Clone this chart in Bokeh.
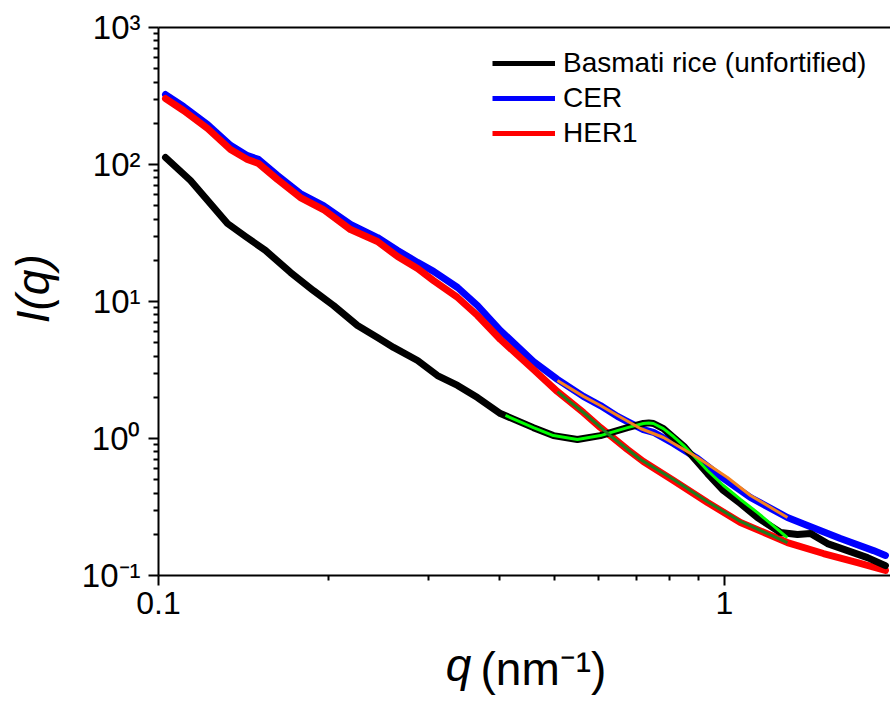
from bokeh.plotting import figure
from bokeh.models import FixedTicker, LogAxis, Legend, LegendItem, Range1d
from bokeh.embed import file_html
from bokeh.resources import INLINE

# ---------------- data ----------------
series_names = ["Basmati rice (unfortified)", "CER", "HER1"]

q_basmati = [0.1029, 0.1139, 0.1324, 0.1425, 0.1545, 0.1711, 0.1879, 0.2038, 0.2247, 0.2437,
             0.2602, 0.2869, 0.3111, 0.3376, 0.3661, 0.4019, 0.4597, 0.4986, 0.5497, 0.6037,
             0.6740, 0.7190, 0.7350, 0.7490, 0.7800, 0.8126, 0.8500, 0.8815, 0.9333, 0.9958,
             1.0673, 1.1437, 1.2559, 1.3459, 1.4189, 1.5205, 1.6494, 1.7893, 1.9250]
I_basmati = [112.5, 76.4, 37.1, 29.8, 23.6, 16.3, 12.0, 9.35, 6.68, 5.46,
             4.62, 3.71, 2.88, 2.44, 1.99, 1.52, 1.20, 1.05, 0.983, 1.05,
             1.20, 1.287, 1.30, 1.287, 1.18, 1.017, 0.867, 0.727, 0.555, 0.417,
             0.335, 0.265, 0.206, 0.199, 0.2025, 0.171, 0.152, 0.135, 0.118]

q_cer = [0.1029, 0.1107, 0.1221, 0.1340, 0.1436, 0.1502, 0.1623, 0.1781, 0.1956, 0.2184,
         0.2437, 0.2645, 0.2869, 0.3062, 0.3376, 0.3661, 0.4019, 0.4597, 0.5068, 0.5633,
         0.6037, 0.6471, 0.6740, 0.7190, 0.7490, 0.8126, 0.8961, 0.9958, 1.1115, 1.2920,
         1.4017, 1.6030, 1.8335, 1.9250]
I_cer = [324, 265, 196, 138, 116, 109, 83.1, 61.4, 50.2, 36.5,
         29.3, 23.6, 19.3, 16.6, 12.65, 9.35, 6.14, 3.65, 2.70, 2.03,
         1.74, 1.45, 1.33, 1.16, 1.11, 0.919, 0.715, 0.511, 0.371, 0.265,
         0.232, 0.186, 0.152, 0.140]

q_her1 = [0.1029, 0.1107, 0.1221, 0.1340, 0.1436, 0.1502, 0.1623, 0.1781, 0.1956, 0.2184,
          0.2437, 0.2645, 0.2869, 0.3062, 0.3376, 0.3661, 0.4019, 0.4597, 0.5068, 0.5633,
          0.6037, 0.6740, 0.7190, 0.8126, 0.9333, 1.0673, 1.2920, 1.4957, 1.7179, 1.9250]
I_her1 = [303, 248, 183, 128.7, 108.8, 101.7, 77.7, 57.4, 46.9, 33.5,
          27.4, 21.3, 17.4, 14.2, 10.7, 7.90, 5.28, 3.19, 2.20, 1.548,
          1.203, 0.831, 0.680, 0.494, 0.341, 0.244, 0.174, 0.1447, 0.1244, 0.1088]

# model fits
q_fit_basmati = [0.4102, 0.4597, 0.4986, 0.5497, 0.6037, 0.6740, 0.7190, 0.7350, 0.7490,
                 0.7800, 0.8126, 0.8500, 0.8815, 0.9333, 0.9958, 1.0673, 1.1437, 1.2920]
I_fit_basmati = [1.472, 1.20, 1.05, 0.983, 1.05, 1.20, 1.287, 1.30, 1.287,
                 1.18, 1.034, 0.875, 0.751, 0.584, 0.454, 0.359, 0.288, 0.189]
q_fit_cer = [0.5068, 0.5633, 0.6037, 0.6471, 0.7105, 0.7802, 0.8961, 1.0123, 1.1115, 1.2920]
I_fit_cer = [2.65, 2.03, 1.74, 1.472, 1.183, 1.017, 0.727, 0.519, 0.384, 0.265]
q_fit_her1 = [0.5068, 0.5633, 0.6214, 0.7105, 0.8126, 0.9333, 1.0673, 1.2920]
I_fit_her1 = [2.20, 1.548, 1.088, 0.703, 0.502, 0.345, 0.248, 0.174]

x_major_ticks = [0.1, 1]
x_tick_labels = ["0.1", "1"]
x_minor_ticks = [0.2, 0.3, 0.4, 0.5, 0.6, 0.7, 0.8, 0.9]
y_major_ticks = [0.1, 1, 10, 100, 1000]
y_tick_labels = ["10\u207b\u00b9", "10\u2070", "10\u00b9", "10\u00b2", "10\u00b3"]
y_minor_ticks = [m * 10.0 ** e for e in range(-1, 3) for m in range(2, 10)]

# x title pieces: italic symbol + upright unit (placed as labels of two tick-less axes)
x_title_symbol = "q"
x_title_unit = "(nm\u207b\u00b9)"
x_title_symbol_at = 0.3388
x_title_unit_at = 0.4788
y_title = "\u00a0\u00a0I(q)"

# ---------------- figure ----------------
FONT = "Liberation Sans"
p = figure(width=890, height=707, x_axis_type="log", y_axis_type="log",
           x_range=Range1d(0.1, 1.965), y_range=Range1d(0.1, 1000),
           output_backend="svg", toolbar_location=None,
           min_border_left=158, min_border_right=0, min_border_top=27, min_border_bottom=132)
p.outline_line_color = None
p.grid.visible = False
p.background_fill_color = "white"
p.border_fill_color = "white"

xa = p.xaxis[0]
ya = p.yaxis[0]
xa.ticker = FixedTicker(ticks=x_major_ticks, minor_ticks=x_minor_ticks)
ya.ticker = FixedTicker(ticks=y_major_ticks, minor_ticks=y_minor_ticks)
xa.major_label_overrides = {t: s for t, s in zip(x_major_ticks, x_tick_labels)}
ya.major_label_overrides = {t: s for t, s in zip(y_major_ticks, y_tick_labels)}
for ax in (xa, ya):
    ax.axis_line_width = 2
    ax.axis_line_color = "black"
    ax.major_tick_line_width = 2
    ax.minor_tick_line_width = 2
    ax.major_tick_in = 0
    ax.major_tick_out = 10
    ax.minor_tick_in = 0
    ax.minor_tick_out = 5
    ax.major_label_text_font = FONT
    ax.major_label_text_color = "black"
xa.major_label_text_font_size = "32px"
ya.major_label_text_font_size = "33px"
xa.major_label_standoff = 6
ya.major_label_standoff = 8
ya.axis_label = y_title
ya.axis_label_text_font = FONT
ya.axis_label_text_font_size = "46px"
ya.axis_label_text_font_style = "italic"
ya.axis_label_text_color = "black"
ya.axis_label_standoff = 20

def title_axis(tick, text, style, standoff):
    return LogAxis(ticker=FixedTicker(ticks=[tick]), major_label_overrides={tick: text},
                   axis_line_color=None, major_tick_line_color=None, minor_tick_line_color=None,
                   major_tick_in=0, major_tick_out=0, major_label_standoff=standoff,
                   major_label_text_font=FONT, major_label_text_font_size="46px",
                   major_label_text_font_style=style, major_label_text_color="black")

p.add_layout(title_axis(x_title_symbol_at, x_title_symbol, "italic", 22), "below")
p.add_layout(title_axis(x_title_unit_at, x_title_unit, "normal", -51), "below")

top = LogAxis(ticker=FixedTicker(ticks=[]), axis_line_width=2, axis_line_color="black",
              major_tick_line_color=None, minor_tick_line_color=None,
              major_label_text_font_size="0px", major_label_standoff=0)
p.add_layout(top, "above")

# data curves
W = 7
p.line(q_cer, I_cer, line_color="#0000FF", line_width=W, line_join="round", line_cap="round")
p.line(q_her1, I_her1, line_color="#FF0000", line_width=W, line_join="round", line_cap="round")
p.line(q_basmati, I_basmati, line_color="#000000", line_width=W, line_join="round", line_cap="round")
# fits
p.line(q_fit_basmati, I_fit_basmati, line_color="#00FF00", line_width=3, line_join="round")
p.line(q_fit_cer, I_fit_cer, line_color="#F5821F", line_width=3, line_join="round")
p.line(q_fit_her1, I_fit_her1, line_color="#1E7D1E", line_width=3, line_join="round")

# legend glyphs (thinner than the data lines, as in the reference); one point => nothing drawn
leg_colors = ["#000000", "#0000FF", "#FF0000"]
leg_x = [q_basmati[0], q_cer[0], q_her1[0]]
leg_y = [I_basmati[0], I_cer[0], I_her1[0]]
leg_r = [p.line(x=[xx], y=[yy], line_color=c, line_width=5)
         for c, xx, yy in zip(leg_colors, leg_x, leg_y)]
legend = Legend(items=[LegendItem(label=n, renderers=[r]) for n, r in zip(series_names, leg_r)],
                location=(334, 425), glyph_width=63, glyph_height=34, label_height=34,
                label_standoff=8, spacing=1, padding=0, margin=0,
                border_line_color=None, background_fill_alpha=0,
                label_text_font=FONT, label_text_font_size="28px", label_text_color="black")
p.add_layout(legend)

open("out.html", "w").write(file_html(p, INLINE))
